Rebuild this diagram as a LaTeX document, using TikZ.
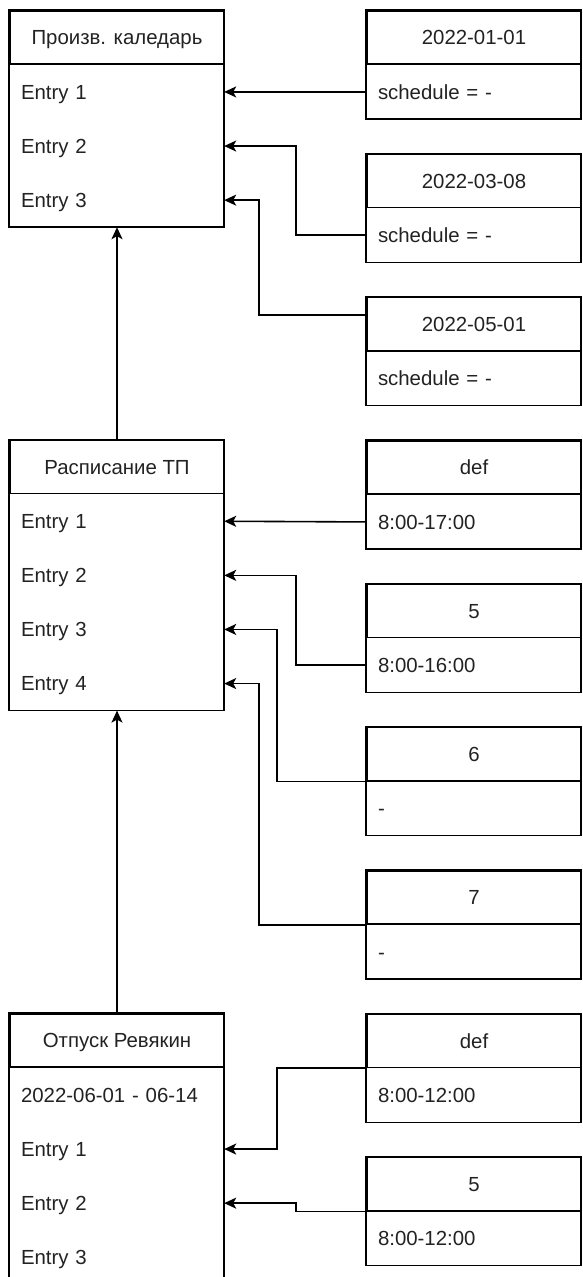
\documentclass[tikz,border=0pt]{standalone}
\usepackage{fontspec}
\setmainfont{Liberation Sans}
\usetikzlibrary{positioning,arrows.meta}
\definecolor{ink}{HTML}{222222}
\tikzset{
  every node/.style={font=\fontsize{20.4pt}{24pt}\selectfont, text=ink},
  hdr/.style={draw, line width=1.6pt, minimum width=214pt, minimum height=53.3pt, anchor=north, inner sep=0pt, text height=14.6pt, text depth=0pt},
  row/.style={minimum width=214pt, minimum height=53.7pt, anchor=north, inner xsep=11pt, inner ysep=0pt, text width=192pt, align=left, text height=14.6pt, text depth=0pt},
  frame/.style={draw, line width=1.6pt},
  link/.style={line width=1.6pt, -{Stealth[length=12pt,width=11pt,inset=3pt]}},
}
\begin{document}
\begin{tikzpicture}[x=1pt,y=-1pt]
    \useasboundingbox (0,0) rectangle (582,1277);
    % production calendar
    \node[hdr] (pk) at (117,10) {Произв. каледарь};
    \node[row, below=0pt of pk] (pk1) {Entry 1};
    \node[row, below=0pt of pk1] (pk2) {Entry 2};
    \node[row, below=0pt of pk2] (pk3) {Entry 3};
    \draw[frame] (pk.north west) rectangle (pk3.south east);
    % schedule
    \node[hdr] (tp) at (117,439.3) {Расписание ТП};
    \node[row, below=0pt of tp] (tp1) {Entry 1};
    \node[row, below=0pt of tp1] (tp2) {Entry 2};
    \node[row, below=0pt of tp2] (tp3) {Entry 3};
    \node[row, below=0pt of tp3] (tp4) {Entry 4};
    \draw[frame] (tp.north west) rectangle (tp4.south east);
    % vacation
    \node[hdr] (ot) at (117,1013) {Отпуск Ревякин};
    \node[row, below=0pt of ot] (ot0) {2022-06-01 - 06-14};
    \node[row, below=0pt of ot0] (ot1) {Entry 1};
    \node[row, below=0pt of ot1] (ot2) {Entry 2};
    \node[row, below=0pt of ot2] (ot3) {Entry 3};
    \draw[frame] (ot.north west) rectangle (ot3.south east);
    % right hand records
    \foreach \k/\nm/\hd/\rw in {0/cal1/2022-01-01/schedule = -, 1/cal2/2022-03-08/schedule = -,
        2/cal3/2022-05-01/schedule = -, 3/sch1/def/8:00-17:00, 4/sch2/5/8:00-16:00,
        5/sch3/6/-, 6/sch4/7/-, 7/vac1/def/8:00-12:00, 8/vac2/5/8:00-12:00} {
      \node[hdr] (h\nm) at (474,{10+\k*143.33}) {\hd};
      \node[row, below=0pt of h\nm] (\nm) {\rw};
      \draw[frame] (h\nm.north west) rectangle (\nm.south east);
    }
    % links
    \draw[link] (cal1.west) -- (pk1.east);
    \draw[link] (cal2.west) -- ++(-71,0) |- (pk2.east);
    \draw[link] ([yshift=9pt]hcal3.west) -- ++(-107,0) |- (pk3.east);
    \draw[link] (sch1.west) -- (tp1.east);
    \draw[link] (sch2.west) -- ++(-71,0) |- (tp2.east);
    \draw[link] (hsch3.south west) -- ++(-89,0) |- (tp3.east);
    \draw[link] (hsch4.south west) -- ++(-107,0) |- (tp4.east);
    \draw[link] (hvac1.south west) -- ++(-89,0) |- (ot1.east);
    \draw[link] (hvac2.south west) -- ++(-70.3,0) |- (ot2.east);
    \draw[link] (tp.north) -- (pk3.south);
    \draw[link] (ot.north) -- (tp4.south);
\end{tikzpicture}
\end{document}
